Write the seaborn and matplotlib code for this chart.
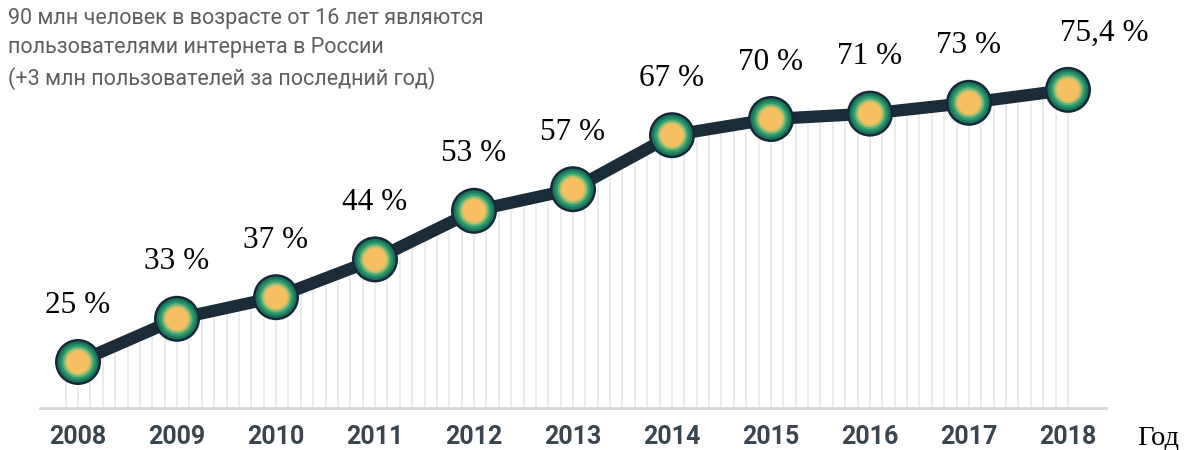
import numpy as np
import pandas as pd
import matplotlib
matplotlib.use("Agg")
import matplotlib.pyplot as plt
import seaborn as sns

years = [2008, 2009, 2010, 2011, 2012, 2013, 2014, 2015, 2016, 2017, 2018]
share = [25, 33, 37, 44, 53, 57, 67, 70, 71, 73, 75.4]
labels = ["25 %", "33 %", "37 %", "44 %", "53 %", "57 %", "67 %", "70 %", "71 %", "73 %", "75,4 %"]
title_lines = ["90 млн человек в возрасте от 16 лет являются",
               "пользователями интернета в России",
               "(+3 млн пользователей за последний год)"]
axis_label = "Год"

df = pd.DataFrame({"year": years, "share": share})

sns.set_theme(style="white")
plt.rcParams["font.family"] = ["Roboto", "DejaVu Sans"]

W, H, DPI = 1184, 450, 100
fig = plt.figure(figsize=(W / DPI, H / DPI), dpi=DPI)
fig.patch.set_facecolor("white")
ax = fig.add_axes([40 / W, 42 / H, 1066 / W, 408 / H])
ax.set_facecolor("white")
ax.set_xlim(2007.616, 2018.384)
ax.set_ylim(16.48, 92.04)

# thin vertical hatch lines under the curve
xs = np.arange(years[0] - 1 / 8, years[-1] + 0.001, 1 / 8)
tops = np.interp(xs, years, share)
ax.vlines(xs, 16.48, tops, color="#e9e9e9", linewidth=1.3, zorder=1)

sns.lineplot(data=df, x="year", y="share", ax=ax, color="#1b2b38",
             linewidth=8.8, zorder=3, solid_capstyle="round")

# layered markers for the radial gradient look
layers = [(46, "#15293a"), (41, "#1b7559"), (36, "#2a956b"), (31, "#5fb275"),
          (27, "#b9bf6c"), (23, "#f5bf62")]
for d, c in layers:
    sns.scatterplot(data=df, x="year", y="share", ax=ax, s=(0.72 * d) ** 2,
                    color=c, edgecolor="none", linewidth=0, zorder=4, clip_on=False)

for i, (x, y, t) in enumerate(zip(years, share, labels)):
    dx = 26 if i == len(years) - 1 else 0
    ax.annotate(t, (x, y), xytext=(dx, 41), textcoords="offset points",
                ha="center", va="center", fontsize=22.5, family="Liberation Serif",
                color="black", annotation_clip=False)

ax.set_xticks(years)
ax.set_xticklabels([str(y) for y in years], fontsize=18, fontweight="bold",
                   color="#3a4550")
ax.tick_params(axis="x", length=0, pad=12)
ax.set_yticks([])
ax.set_xlabel("")
ax.set_ylabel("")
for s in ["left", "right", "top"]:
    ax.spines[s].set_visible(False)
ax.spines["bottom"].set_color("#d6d6d6")
ax.spines["bottom"].set_linewidth(2)

fig.text(1137 / W, 1 - 438 / H, axis_label, fontsize=20.5, family="Liberation Serif",
         color="black", ha="left", va="center")

fig.text(8 / W, 1 - 8 / H, "\n".join(title_lines), fontsize=15.5, color="#5e5e5e",
         ha="left", va="top", linespacing=1.5)

fig.savefig("out.png", dpi=DPI, facecolor="white")
